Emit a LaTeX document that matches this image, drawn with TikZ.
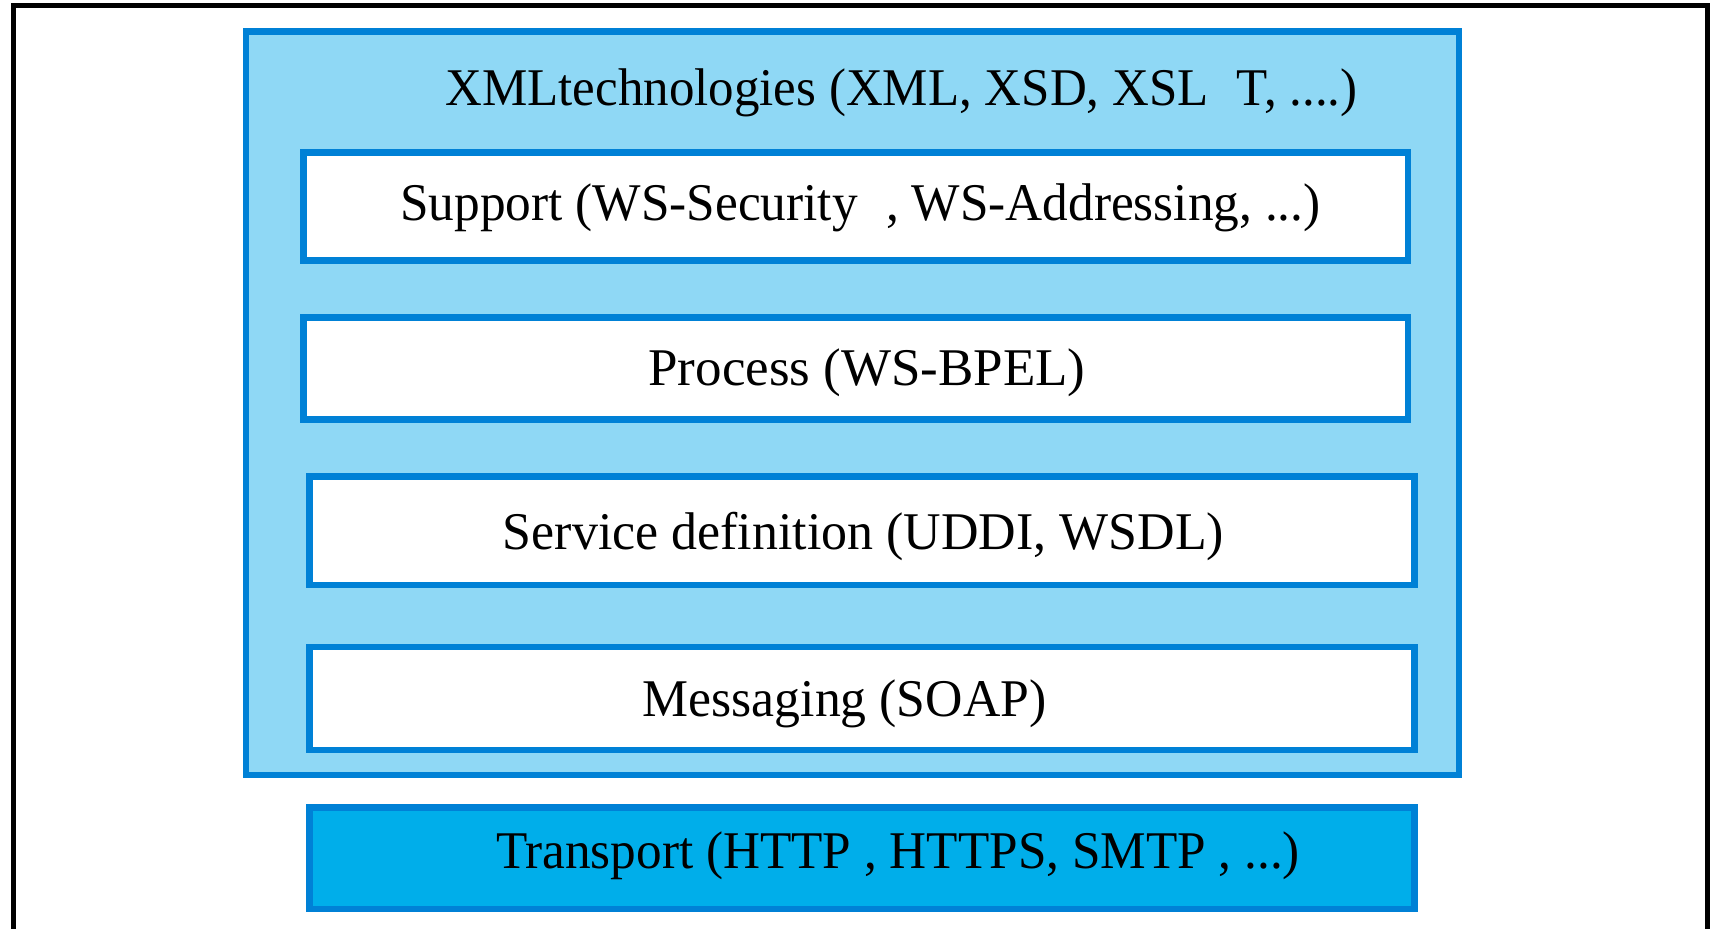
\documentclass[tikz,border=0pt]{standalone}
\usepackage{fontspec}
\usepackage{graphicx}
\setmainfont{Liberation Serif}
\definecolor{bordblue}{RGB}{0,129,214}
\definecolor{lightfill}{RGB}{143,216,245}
\definecolor{transfill}{RGB}{0,174,234}
\tikzset{
  bluebox/.style={draw=bordblue, line width=3.35pt, rectangle, inner sep=0pt},
  layerbox/.style={bluebox, fill=white},
  lbl/.style={anchor=base, inner sep=0pt, font=\fontsize{26.5}{30}\selectfont},
}
\begin{document}
\begin{tikzpicture}[x=0.5pt, y=-0.5pt]
\useasboundingbox (0,0) rectangle (1711,929);
\clip (0,0) rectangle (1711,929);
\fill[white] (0,0) rectangle (1711,929);
\node[draw=black, line width=2.5pt, rectangle, inner sep=0pt, minimum width=847pt, minimum height=477.1pt] (frame) at (860,482.9) {};
\node[bluebox, fill=lightfill, minimum width=606.5pt, minimum height=371.85pt] (xml) at (852.5,403.15) {};
\node[layerbox, minimum width=552.25pt, minimum height=54pt] (sup) at (855.75,206.5) {};
\node[layerbox, minimum width=552.25pt, minimum height=50.9pt] (proc) at (855.75,368.4) {};
\node[layerbox, minimum width=552.4pt, minimum height=54.35pt] (serv) at (862.1,530.65) {};
\node[layerbox, minimum width=552.5pt, minimum height=51.5pt] (msg) at (862,698.5) {};
\node[bluebox, fill=transfill, minimum width=552.5pt, minimum height=50.85pt] (trans) at (862,858.15) {};
\node[lbl] (xmlt) at (901.5,106) {\scalebox{0.962}[1]{XMLtechnologies (XML, XSD, XSL\hspace{0.55em}T, ....)}};
\node[lbl] (supt) at (860.5,221) {\scalebox{0.968}[1]{Support (WS-Security\hspace{0.55em}, WS-Addressing, ...)}};
\node[lbl] (proct) at (867,386) {Process (WS-BPEL)};
\node[lbl] (servt) at (863.5,550) {\scalebox{0.98}[1]{Service definition (UDDI, WSDL)}};
\node[lbl] (msgt) at (844.5,716) {\scalebox{0.976}[1]{Messaging (SOAP)}};
\node[lbl] (transt) at (898,868) {\scalebox{0.967}[1]{Transport (HTTP , HTTPS, SMTP , ...)}};
\end{tikzpicture}
\end{document}
